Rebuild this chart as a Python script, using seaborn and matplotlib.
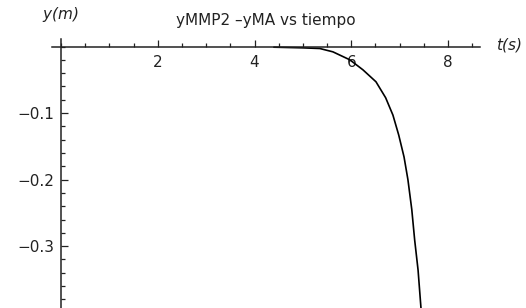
import matplotlib.pyplot as plt
import matplotlib.ticker as mticker
import seaborn as sns
import pandas as pd

# datos
tiempo = [4.40, 5.00, 5.35, 5.62, 5.97, 6.24, 6.51, 6.71, 6.86, 6.98, 7.09, 7.17, 7.25, 7.31, 7.38, 7.42, 7.44]
dif_y = [-0.001, -0.002, -0.003, -0.008, -0.020, -0.035, -0.053, -0.077, -0.103, -0.133, -0.166, -0.200,
         -0.245, -0.291, -0.336, -0.374, -0.393]
x_ticks = [2, 4, 6, 8]
y_ticks = [-0.1, -0.2, -0.3]
y_tick_labels = ['\u22120.1', '\u22120.2', '\u22120.3']

df = pd.DataFrame({'t': tiempo, 'y': dif_y})

sns.set_style('white')
plt.rcParams['font.family'] = ['DejaVu Sans']

fig = plt.figure(figsize=(5.26, 3.08), dpi=100)
ax = fig.add_axes([52 / 526, 0.0, (480 - 52) / 526, 1 - 39 / 308])

sns.lineplot(x='t', y='y', data=df, color='black', linewidth=1.2, ax=ax)

ax.set_xlim(-0.186, 8.66)
ax.set_ylim(-0.393, 0.0113)

# ejes estilo Mathematica, cruzando en el origen
ax.spines['left'].set_position(('data', 0))
ax.spines['bottom'].set_position(('data', 0))
ax.spines['top'].set_visible(False)
ax.spines['right'].set_visible(False)
for s in ['left', 'bottom']:
    ax.spines[s].set_color('#222222')
    ax.spines[s].set_linewidth(1.1)

ax.xaxis.set_major_locator(mticker.FixedLocator(x_ticks))
ax.xaxis.set_minor_locator(mticker.MultipleLocator(0.5))
ax.yaxis.set_major_locator(mticker.FixedLocator(y_ticks))
ax.yaxis.set_major_formatter(mticker.FixedFormatter(y_tick_labels))
ax.yaxis.set_minor_locator(mticker.MultipleLocator(0.02))

ax.tick_params(which='both', direction='in', color='#222222', width=0.9,
               bottom=True, left=True, labelsize=11, labelcolor='#222222')
ax.tick_params(which='major', length=5)
ax.tick_params(which='minor', length=3)
ax.tick_params(axis='x', which='major', pad=6)
ax.tick_params(axis='y', which='major', pad=5)

ax.set_xlabel('')
ax.set_ylabel('')
ax.grid(False)

fig.text(266 / 526, 1 - 21 / 308, 'yMMP2 \u2013yMA vs tiempo', ha='center', va='center',
         fontsize=11, color='#222222')
fig.text(60 / 526, 1 - 15 / 308, '$y$(m)', ha='center', va='center', fontsize=11,
         color='#222222', style='italic')
fig.text(509 / 526, 1 - 45 / 308, '$t$(s)', ha='center', va='center', fontsize=11,
         color='#222222', style='italic')

fig.savefig('out.png', dpi=100)
